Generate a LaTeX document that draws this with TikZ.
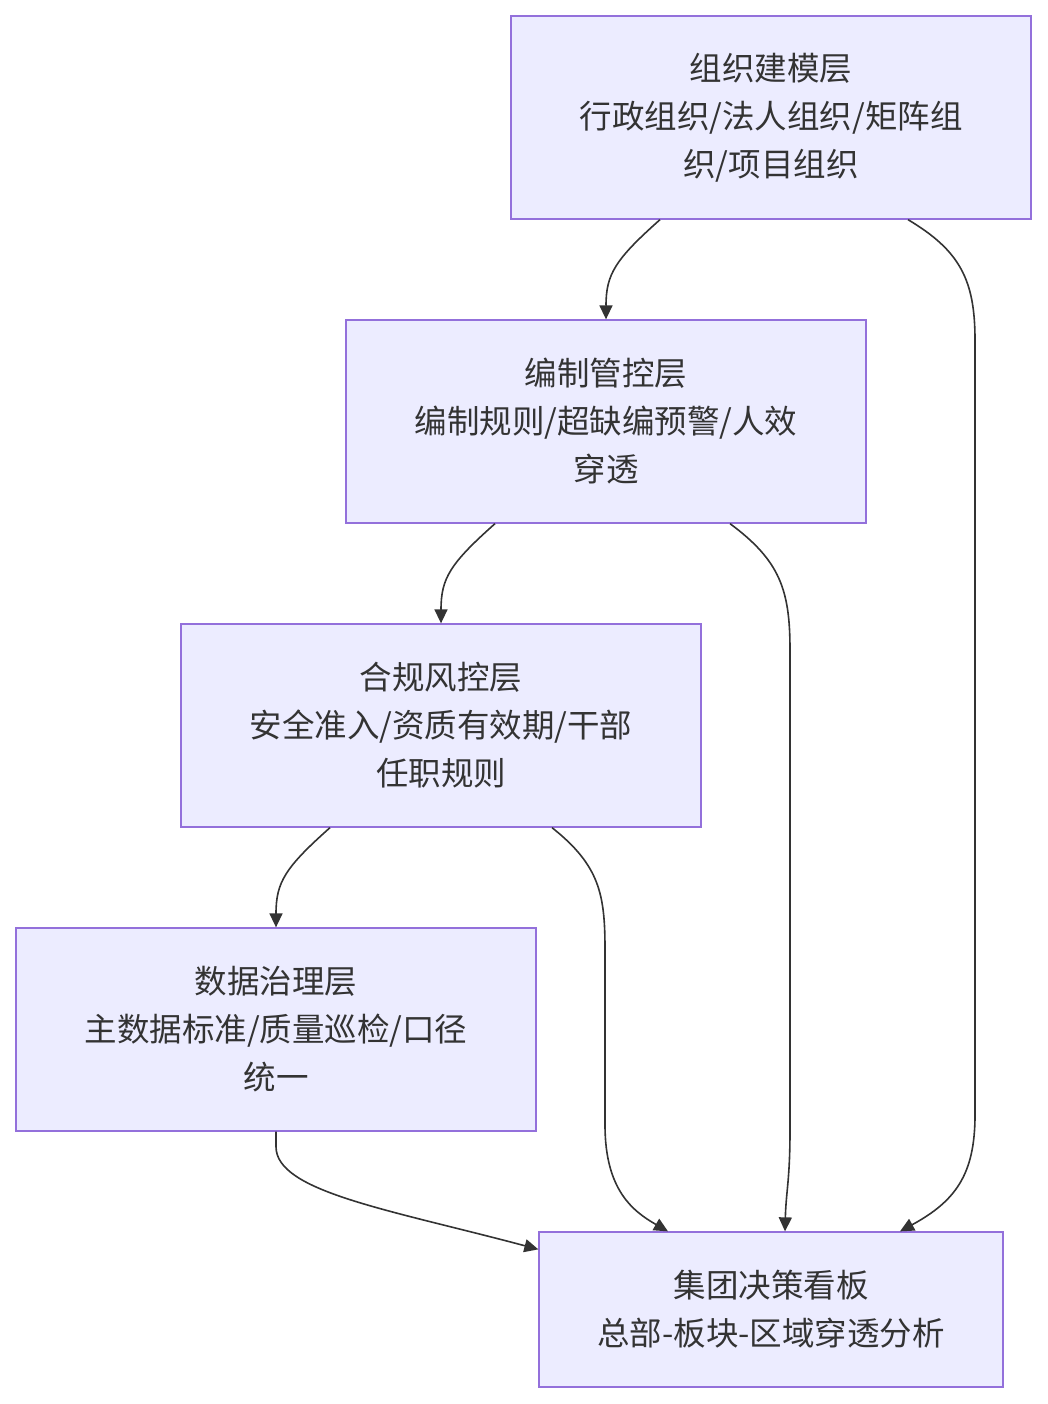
\documentclass[tikz,border=0pt]{standalone}
\usepackage{fontspec}
\setmainfont{Noto Sans CJK SC}
\usepackage{tikz}
\usetikzlibrary{arrows.meta}

\definecolor{boxfill}{HTML}{ECECFF}
\definecolor{boxline}{HTML}{9370DB}
\definecolor{ink}{HTML}{333333}

\tikzset{
  layer/.style={draw=boxline, fill=boxfill, line width=1.3pt, text=ink, align=center,
    minimum width=520pt, minimum height=203pt, inner sep=0pt,
    font=\fontsize{32.5}{48}\selectfont},
  arr/.style={draw=ink, line width=1.6pt, -{Triangle[length=14pt,width=13pt]}}
}

\begin{document}
\begin{tikzpicture}[x=1pt,y=-1pt]
\useasboundingbox (0,0) rectangle (1047,1404);

% Layers
\node[layer] (zuzhi) at (771,117.5) {组织建模层\\行政组织/法人组织/矩阵组\\织/项目组织};
\node[layer] (bianzhi) at (606,421.5) {编制管控层\\编制规则/超缺编预警/人效\\穿透};
\node[layer] (hegui) at (441,725.5) {合规风控层\\安全准入/资质有效期/干部\\任职规则};
\node[layer] (shuju) at (276,1029.5) {数据治理层\\主数据标准/质量巡检/口径\\统一};
\node[layer, minimum width=464pt, minimum height=155pt] (juece) at (771,1309.5) {集团决策看板\\总部-板块-区域穿透分析};

% Down the chain
\draw[arr] ([xshift=-111pt]zuzhi.south) .. controls +(-45,40) and +(0,-45) .. (bianzhi.north);
\draw[arr] ([xshift=-111pt]bianzhi.south) .. controls +(-45,40) and +(0,-45) .. (hegui.north);
\draw[arr] ([xshift=-111pt]hegui.south) .. controls +(-45,40) and +(0,-45) .. (shuju.north);

% Into the board
\draw[arr] ([xshift=137pt]zuzhi.south) .. controls +(52,31) and +(0,-60) .. (975,340)
  -- (975,1115) .. controls +(0,60) and +(55,-30) .. ([xshift=129pt]juece.north);
\draw[arr] ([xshift=124pt]bianzhi.south) .. controls +(50,37) and +(0,-60) .. (790,650)
  -- (790,1130) .. controls +(0,50) and +(1,-40) .. ([xshift=14pt]juece.north);
\draw[arr] ([xshift=111pt]hegui.south) .. controls +(48,38) and +(0,-55) .. (605,950)
  -- (605,1125) .. controls +(0,65) and +(-35,-20) .. ([xshift=-103pt]juece.north);
\draw[arr] (shuju.south) -- +(0,15) .. controls +(0,45) and +(-150,-40) .. ([yshift=-18pt]juece.north west);

\end{tikzpicture}
\end{document}
